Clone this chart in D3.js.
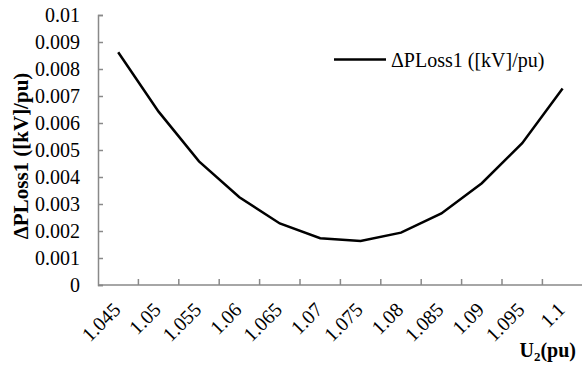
<!DOCTYPE html>
<html>
<head>
<meta charset="utf-8">
<script src="https://cdnjs.cloudflare.com/ajax/libs/d3/7.8.5/d3.min.js"></script>
</head>
<body style="margin:0">
<script>
// data
var categories = ["1.045", "1.05", "1.055", "1.06", "1.065", "1.07", "1.075", "1.08", "1.085", "1.09", "1.095", "1.1"];
var lossValues = [0.00862, 0.00642, 0.00458, 0.00325, 0.00228, 0.00173, 0.00163, 0.00194, 0.00265, 0.00377, 0.00525, 0.00728];
var yTicks = [0, 0.001, 0.002, 0.003, 0.004, 0.005, 0.006, 0.007, 0.008, 0.009, 0.01];
var seriesName = "\u0394PLoss1 ([kV]/pu)";

var width = 582, height = 366;
var fam = '"Liberation Serif"';
// "top" is reserved on window, so other names here
var plotLeft = 98, plotTop = 15, plotH = 270, step = 40.4;

var svg = d3.select('body').append('svg').attr('width', width).attr('height', height);

var x = d3.scaleBand().domain(categories).range([plotLeft, plotLeft + step * categories.length]);
var y = d3.scaleLinear().domain([0, 0.01]).range([plotTop + plotH, plotTop]);

// y axis: line and ticks from d3, labels drawn as plain texts
var yAxis = svg.append('g').attr('transform', 'translate(' + plotLeft + ',0)')
  .call(d3.axisRight(y).tickValues(yTicks).tickSize(5).tickFormat(''));
yAxis.select('.domain').attr('stroke', '#898989').attr('stroke-width', 1.5);
yAxis.selectAll('.tick line').attr('stroke', '#898989').attr('stroke-width', 1.5);

svg.selectAll('.ylab').data(yTicks).enter().append('text')
  .attr('class', 'ylab')
  .attr('x', plotLeft - 18)
  .attr('y', function(d){ return y(d) + 6.5; })
  .style('font-family', fam)
  .style('font-size', '20px')
  .style('text-anchor', 'end')
  .text(function(d){ return String(d); });

// x axis, ticks sit between categories
var xAxis = svg.append('g').attr('transform', 'translate(0,' + (plotTop + plotH) + ')');
xAxis.append('line')
  .attr('x1', plotLeft).attr('x2', x.range()[1])
  .attr('stroke', '#898989').attr('stroke-width', 1.5);
xAxis.selectAll('.sep').data(categories.slice(1)).enter().append('line')
  .attr('x1', function(d){ return x(d); }).attr('x2', function(d){ return x(d); })
  .attr('y1', 0).attr('y2', -6)
  .attr('stroke', '#898989').attr('stroke-width', 1.5);

svg.selectAll('.xlab').data(categories).enter().append('text')
  .attr('class', 'xlab')
  .attr('transform', function(d){
    return 'translate(' + (x(d) + x.bandwidth() / 2 + 3.5) + ',' + (plotTop + plotH + 26) + ') rotate(-45)';
  })
  .style('font-family', fam)
  .style('font-size', '20px')
  .style('text-anchor', 'end')
  .text(function(d){ return d; });

// line
var line = d3.line()
  .x(function(d, i){ return x(categories[i]) + x.bandwidth() / 2; })
  .y(function(d){ return y(d); });
svg.append('path').datum(lossValues)
  .attr('d', line)
  .attr('fill', 'none')
  .attr('stroke', '#000')
  .attr('stroke-width', 2.5);

// legend
svg.append('line').attr('x1', 334).attr('x2', 386).attr('y1', 59.5).attr('y2', 59.5)
  .attr('stroke', '#000').attr('stroke-width', 2.5);
svg.append('text').attr('x', 391).attr('y', 66.5)
  .style('font-family', fam).style('font-size', '20px')
  .text(seriesName);

// axis titles
svg.append('text')
  .attr('transform', 'translate(28,156) rotate(-90)')
  .style('font-family', fam).style('font-size', '21px').style('font-weight', 'bold')
  .style('text-anchor', 'middle')
  .text(seriesName);

var xt = svg.append('text').attr('x', 576).attr('y', 357)
  .style('font-family', fam).style('font-size', '20px').style('font-weight', 'bold')
  .style('text-anchor', 'end');
xt.append('tspan').text('U');
xt.append('tspan').attr('dy', 4).style('font-size', '13px').text('2');
xt.append('tspan').attr('dy', -4).text('(pu)');
</script>
</body>
</html>
